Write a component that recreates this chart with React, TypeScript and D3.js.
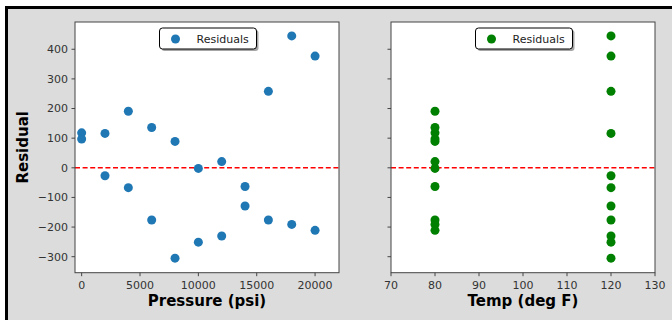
import React from 'react';
import * as d3 from 'd3';

const pressure = [0, 0, 2000, 2000, 4000, 4000, 6000, 6000, 8000, 8000, 10000, 10000,
  12000, 12000, 14000, 14000, 16000, 16000, 18000, 18000, 20000, 20000];
const temp = [80, 80, 120, 120, 80, 120, 80, 120, 80, 120, 80, 120,
  80, 120, 80, 120, 120, 80, 120, 80, 120, 80];
const residual = [118, 97, 116, -27, 191, -67, 136, -176, 89, -305, -2, -251,
  21, -230, -63, -129, 258, -176, 445, -191, 377, -211];

const pressureTicks = [0, 5000, 10000, 15000, 20000];
const tempTicks = [70, 80, 90, 100, 110, 120, 130];
const residualTicks = [-300, -200, -100, 0, 100, 200, 300, 400];

const W = 672, H = 320;
const FONT = '"DejaVu Sans", Verdana, sans-serif';
const TOP = 22, BOTTOM = 272.7;
const fmt = d3.format('d');

const y = d3.scaleLinear().domain([-354, 492]).range([BOTTOM, TOP]);

function Panel({ left, width, xs, x, ticks, color, xlabel, showY, ylabel }: {
  left: number; width: number; xs: number[]; x: d3.ScaleLinear<number, number>;
  ticks: number[]; color: string; xlabel: string; showY: boolean; ylabel?: string;
}) {
  const right = left + width;
  const cx = left + width / 2;
  const legW = 97, legH = 21, legTop = TOP + 6;
  const legL = cx - legW / 2 + 1;
  return (
    <g>
      <rect x={left} y={TOP} width={width} height={BOTTOM - TOP} fill="#fff" />
      <line x1={left} x2={right} y1={y(0)} y2={y(0)} stroke="#ff0000" strokeWidth={1.5} strokeDasharray="5,2.6" />
      {xs.map((v, i) => (
        <circle key={i} cx={x(v)} cy={y(residual[i])} r={4.5} fill={color} />
      ))}
      <rect x={left} y={TOP} width={width} height={BOTTOM - TOP} fill="none" stroke="#444" strokeWidth={1} />
      {ticks.map(t => (
        <g key={t}>
          <line x1={x(t)} x2={x(t)} y1={BOTTOM} y2={BOTTOM + 3.5} stroke="#444" />
          <text x={x(t)} y={BOTTOM + 16} textAnchor="middle" fontSize={11} fill="#333" fontFamily={FONT}>{fmt(t)}</text>
        </g>
      ))}
      {residualTicks.map(t => (
        <g key={t}>
          <line x1={left - 3.5} x2={left} y1={y(t)} y2={y(t)} stroke="#444" />
          {showY && (
            <text x={left - 7} y={y(t)} dy="0.35em" textAnchor="end" fontSize={11} fill="#333" fontFamily={FONT}>{fmt(t)}</text>
          )}
        </g>
      ))}
      <text x={cx} y={306} textAnchor="middle" fontSize={15} fontWeight="bold" fill="#000" fontFamily={FONT}>{xlabel}</text>
      {ylabel && (
        <text transform={`translate(27.5,${(TOP + BOTTOM) / 2}) rotate(-90)`} textAnchor="middle" fontSize={15}
          fontWeight="bold" fill="#000" fontFamily={FONT}>{ylabel}</text>
      )}
      <rect x={legL + 2} y={legTop + 2} width={legW} height={legH} rx={3} fill="#000" opacity={0.35} />
      <rect x={legL} y={legTop} width={legW} height={legH} rx={3} fill="#fff" stroke="#000" strokeWidth={1} />
      <circle cx={legL + 16} cy={legTop + 11} r={4.5} fill={color} />
      <text x={legL + 37} y={legTop + 11} dy="0.35em" fontSize={11} fill="#222" fontFamily={FONT}>Residuals</text>
    </g>
  );
}

export default function App() {
  const xP = d3.scaleLinear().domain([-570, 22050]).range([75, 339]);
  const xT = d3.scaleLinear().domain([70, 130]).range([391, 655]);
  return (
    <svg width={W} height={H} style={{ position: 'absolute', left: 0, top: 0, background: '#fff' }}>
      <rect x={6.5} y={7.5} width={800} height={400} fill="#dcdcdc" stroke="#000" strokeWidth={3} />
      <Panel left={75} width={264} xs={pressure} x={xP} ticks={pressureTicks} color="#1f77b4"
        xlabel="Pressure (psi)" showY ylabel="Residual" />
      <Panel left={391} width={264} xs={temp} x={xT} ticks={tempTicks} color="#008000"
        xlabel="Temp (deg F)" showY={false} />
    </svg>
  );
}
